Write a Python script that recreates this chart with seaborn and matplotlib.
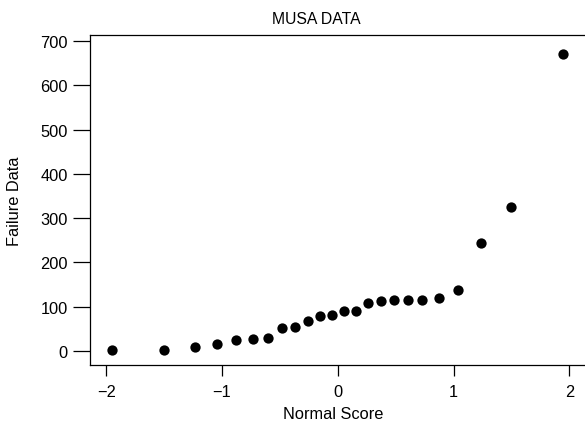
import seaborn as sns
import numpy as np
import pandas as pd
import matplotlib.pyplot as plt

# normal scores
normal_score = [-1.95, -1.50, -1.236, -1.04, -0.875, -0.732, -0.603, -0.483,
                -0.370, -0.261, -0.156, -0.052, 0.052, 0.156, 0.261, 0.370,
                0.483, 0.603, 0.732, 0.875, 1.04, 1.236, 1.50, 1.95]
# failure data (sorted)
failure_data = [3, 3, 8, 15, 24, 26, 30, 51, 55, 68, 78, 82, 90, 90, 108, 112,
                114, 114, 115, 120, 138, 244, 325, 671]
x_ticks = [-2, -1, 0, 1, 2]
y_ticks = [0, 100, 200, 300, 400, 500, 600, 700]

df = pd.DataFrame({'Normal Score': normal_score, 'Failure Data': failure_data})

# plain black text and ticks, like the printed figure
sns.set_style("ticks", {'text.color': 'black', 'axes.labelcolor': 'black',
                        'xtick.color': 'black', 'ytick.color': 'black',
                        'axes.edgecolor': 'black'})
plt.rcParams['font.family'] = ['Liberation Sans', 'DejaVu Sans']

fig = plt.figure(figsize=(5.85, 4.35), dpi=100)
ax = fig.add_axes([0.1538, 0.1586, 0.851, 0.7586])

sns.scatterplot(data=df, x='Normal Score', y='Failure Data', ax=ax,
                color='black', s=55, edgecolor='black', linewidth=0)

ax.set_xlim(-2.14, 2.16)
ax.set_ylim(-32, 714)
ax.set_xticks(x_ticks)
ax.set_yticks(y_ticks)
ax.set_xticklabels(['\u22122', '\u22121', '0', '1', '2'])

ax.spines['right'].set_visible(False)
for sp in ['left', 'bottom', 'top']:
    ax.spines[sp].set_linewidth(0.9)
ax.tick_params(axis='y', length=12, width=0.9, pad=4, labelsize=11.8)
ax.tick_params(axis='x', length=8, width=0.9, pad=6, labelsize=11.8)

# title and x label sit a bit left of the axes centre in the original
ax.set_title('MUSA DATA', fontsize=11.3, pad=9, x=0.455)
ax.set_xlabel('Normal Score', fontsize=11.8, labelpad=5, x=0.488)
ax.set_ylabel('Failure Data', fontsize=11.8, labelpad=13)

fig.savefig('out.png', dpi=100)
